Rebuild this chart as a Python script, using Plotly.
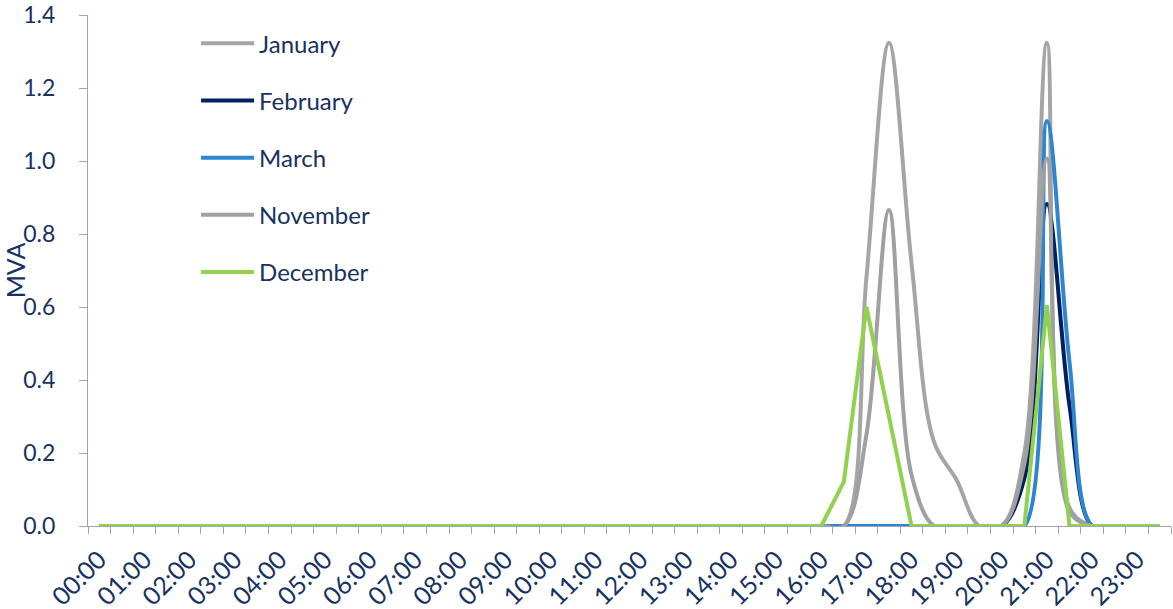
import plotly.graph_objects as go

# Half-hourly time slots (48 categories), labels every hour
times = [f"{h:02d}:{m:02d}" for h in range(24) for m in (0, 30)]
hour_labels = times[::2]

# MVA values per half-hour slot (index 0 = 00:00 ... 47 = 23:30)
zeros32 = [0.0] * 32
january = zeros32 + [0.0, 0.0, 0.68, 1.324, 0.72, 0.23, 0.126, 0.0,
                     0.0, 0.20, 1.324, 0.05, 0.0, 0.0, 0.0, 0.0]
february = zeros32 + [0.0, 0.0, 0.0, 0.0, 0.0, 0.0, 0.0, 0.0,
                      0.0, 0.13, 0.882, 0.33, 0.0, 0.0, 0.0, 0.0]
march = zeros32 + [0.0, 0.0, 0.0, 0.0, 0.0, 0.0, 0.0, 0.0,
                   0.0, 0.0, 1.11, 0.45, 0.0, 0.0, 0.0, 0.0]
november = zeros32 + [0.0, 0.0, 0.25, 0.866, 0.14, 0.0, 0.0, 0.0,
                      0.0, 0.17, 1.007, 0.04, 0.0, 0.0, 0.0, 0.0]
december = zeros32 + [0.0, 0.121, 0.60, 0.30, 0.0, 0.0, 0.0, 0.0,
                      0.0, 0.0, 0.605, 0.0, 0.0, 0.0, 0.0, 0.0]

y_ticks = [0.0, 0.2, 0.4, 0.6, 0.8, 1.0, 1.2, 1.4]

series = [
    ("January", january, "#A5A5A5", "spline"),
    ("February", february, "#002060", "spline"),
    ("March", march, "#2E86D1", "spline"),
    ("November", november, "#A0A0A0", "spline"),
    ("December", december, "#92D050", "linear"),
]

FONT = "Lato"
TXT = "#17325E"
AXC = "#A3A3B5"

x_pos = list(range(len(times)))

fig = go.Figure()
for name, vals, color, shape in series:
    fig.add_trace(go.Scatter(
        x=x_pos, y=vals, name=name, mode="lines",
        line=dict(color=color, width=4, shape=shape, smoothing=1.0),
        legendgroup=name,
    ))

fig.update_layout(
    width=1173, height=609,
    margin=dict(l=88, r=2, t=15, b=83, autoexpand=False),
    paper_bgcolor="white", plot_bgcolor="white",
    font=dict(family=FONT, color=TXT, size=24),
    showlegend=True,
    legend=dict(
        x=0.0998, y=0.988, xanchor="left", yanchor="top",
        bgcolor="rgba(0,0,0,0)", font=dict(size=24, color=TXT, family=FONT),
        tracegroupgap=23, itemwidth=53,
    ),
    xaxis=dict(
        range=[-0.5, len(times) - 0.5], automargin=False,
        tickmode="array",
        tickvals=x_pos[::2], ticktext=hour_labels,
        tickangle=-45, ticks="", showgrid=False, zeroline=False,
        showline=True, linecolor=AXC, linewidth=1.3,
        ticklabelstandoff=8, ticklabeloverflow="allow",
        tickfont=dict(size=25, color=TXT, family=FONT),
        minor=dict(tick0=-0.5, dtick=1, ticks="outside", ticklen=7,
                   tickcolor=AXC, tickwidth=1.3, showgrid=False),
    ),
    yaxis=dict(
        range=[0, 1.4001], automargin=False,
        tickmode="array", tickvals=y_ticks,
        ticktext=[f"{v:.1f}" for v in y_ticks],
        ticks="outside", ticklen=8, tickcolor=AXC, tickwidth=1.3,
        showline=True, linecolor=AXC, linewidth=1.3,
        showgrid=False, zeroline=False,
        ticklabelstandoff=19, ticklabeloverflow="allow",
        tickfont=dict(size=23, color=TXT, family=FONT),
        title=dict(text="MVA", font=dict(size=25, color=TXT, family=FONT), standoff=18),
    ),
)

fig.write_html(
    "out.html",
    config={"displayModeBar": False},
    post_script="document.body.style.margin='0';document.body.style.overflow='hidden';",
)
